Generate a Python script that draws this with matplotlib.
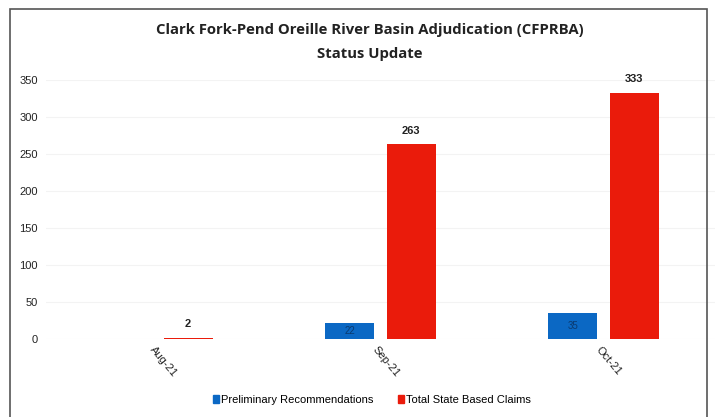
import matplotlib.pyplot as plt
import numpy as np
from matplotlib.patches import Rectangle

months = ["Aug-21", "Sep-21", "Oct-21"]
prelim = [0, 22, 35]
claims = [2, 263, 333]
yticks = [0, 50, 100, 150, 200, 250, 300, 350]

BLUE = "#0b68c4"
RED = "#ea1b0b"

plt.rcParams["font.family"] = ["Liberation Sans Narrow", "Liberation Sans", "DejaVu Sans"]

fig = plt.figure(figsize=(7.17, 4.17), dpi=100)
ax = fig.add_axes([46 / 717, 1 - 339 / 417, 669 / 717, 259 / 417])

x = np.arange(len(months))
off = 0.137
w = 0.22
ax.bar(x - off, prelim, width=w, color=BLUE, zorder=2)
ax.bar(x + off, claims, width=w, color=RED, zorder=2)

for xi, v in zip(x, prelim):
    if v > 0:
        ax.text(xi - off, v / 2, str(v), ha="center", va="center",
                fontsize=7, color="#0a3a70")
for xi, v in zip(x, claims):
    ax.text(xi + off, v + 12, str(v), ha="center", va="bottom",
            fontsize=8, fontweight="bold", color="#222222")

ax.set_xlim(-0.5, 2.5)
ax.set_ylim(0, 350)
ax.set_yticks(yticks)
ax.set_yticklabels([str(t) for t in yticks], fontsize=8, color="#222222")
ax.tick_params(axis="y", length=0, pad=6)
ax.set_xticks(x)
ax.set_xticklabels([])
ax.tick_params(axis="x", length=0)
for xi, m in zip(x, months):
    ax.text(xi - 0.01, -8, m, rotation=-50, rotation_mode="anchor",
            ha="left", va="top", fontsize=8, color="#222222")
ax.yaxis.grid(True, color="#f3f3f3", linewidth=0.8, zorder=0)
for s in ax.spines.values():
    s.set_visible(False)

fig.text(370 / 717, 1 - 30 / 417, "Clark Fork-Pend Oreille River Basin Adjudication (CFPRBA)",
         ha="center", va="center", fontsize=10.7, fontweight="bold",
         family=["Open Sans", "DejaVu Sans"], color="#222222")
fig.text(370 / 717, 1 - 54 / 417, "Status Update",
         ha="center", va="center", fontsize=10.7, fontweight="bold",
         family=["Open Sans", "DejaVu Sans"], color="#222222")

# legend
handles = [Rectangle((0, 0), 1, 1, color=BLUE), Rectangle((0, 0), 1, 1, color=RED)]
fig.legend(handles, ["Preliminary Recommendations", "Total State Based Claims"],
           loc="center", bbox_to_anchor=(372 / 717, 1 - 400 / 417), ncol=2,
           frameon=False, fontsize=8, handlelength=0.5, handleheight=0.7,
           handletextpad=0.2, columnspacing=2.2)

fig.patches.append(Rectangle((10 / 717, -0.05), 697 / 717, 1 - 9 / 417 + 0.05,
                             transform=fig.transFigure, fill=False,
                             edgecolor="#555555", linewidth=1.2))

fig.savefig("out.png", dpi=100)
